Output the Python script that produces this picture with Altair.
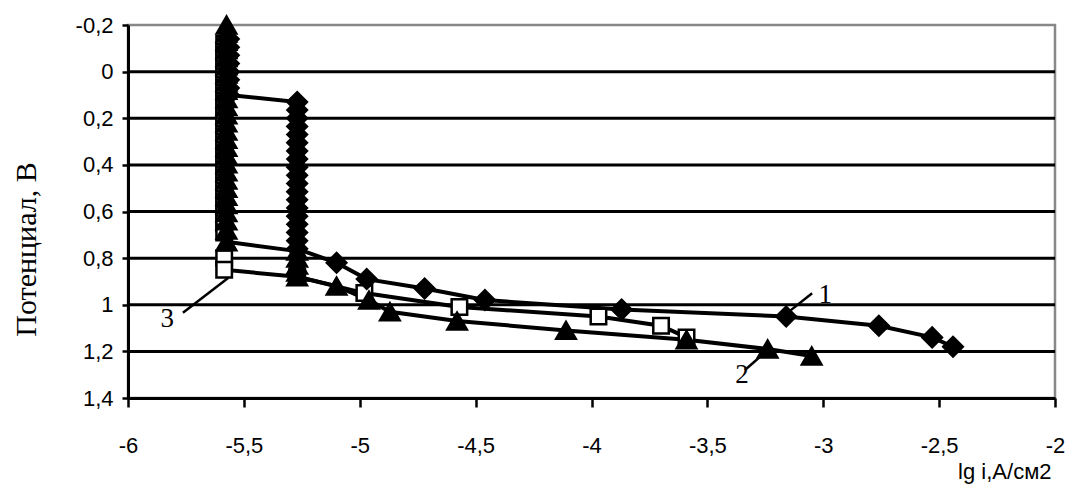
import altair as alt
import pandas as pd

# Series 1 (diamonds)
s1_x = [-5.565] * 8 + [-5.27] * 19 + [-5.10, -4.97, -4.72, -4.46, -3.87, -3.16, -2.76, -2.53, -2.44]
s1_y = [-0.14, -0.105, -0.07, -0.035, 0.0, 0.035, 0.07, 0.10,
        0.13, 0.165, 0.20, 0.235, 0.27, 0.305, 0.34, 0.375, 0.41, 0.445, 0.48, 0.515,
        0.55, 0.585, 0.62, 0.655, 0.69, 0.725, 0.76,
        0.82, 0.89, 0.93, 0.98, 1.02, 1.05, 1.09, 1.14, 1.18]

# Series 2 (triangles)
s2_x = [-5.575] * 27 + [-5.27] * 5 + [-5.10, -4.96, -4.87, -4.58, -4.11, -3.59, -3.24, -3.05]
s2_y = [-0.20, -0.165, -0.13, -0.095, -0.06, -0.025, 0.01, 0.045, 0.08, 0.115,
        0.15, 0.185, 0.22, 0.255, 0.29, 0.325, 0.36, 0.395, 0.43, 0.465,
        0.50, 0.535, 0.57, 0.605, 0.64, 0.68, 0.73,
        0.77, 0.80, 0.83, 0.86, 0.88,
        0.92, 0.98, 1.03, 1.07, 1.11, 1.15, 1.19, 1.22]

# Series 3 (squares)
s3_x = [-5.585] * 26 + [-5.27, -4.98, -4.57, -3.97, -3.70, -3.59]
s3_y = [-0.12, -0.085, -0.05, -0.015, 0.02, 0.055, 0.09, 0.125, 0.16, 0.195,
        0.23, 0.265, 0.30, 0.335, 0.37, 0.405, 0.44, 0.475, 0.51, 0.545,
        0.58, 0.615, 0.65, 0.69, 0.80, 0.85,
        0.88, 0.95, 1.01, 1.05, 1.09, 1.14]

series_names = ["1", "2", "3"]
x_ticks = [-6, -5.5, -5, -4.5, -4, -3.5, -3, -2.5, -2]
y_ticks = [-0.2, 0, 0.2, 0.4, 0.6, 0.8, 1, 1.2, 1.4]
grid_y = [0, 0.2, 0.4, 0.6, 0.8, 1, 1.2]

# curve labels and leader lines (data units)
lab_text = ["1", "2", "3"]
lab_x = [-3.02, -3.38, -5.86]
lab_y = [0.96, 1.30, 1.06]
lead_x = [-3.156, -3.338, -5.763]
lead_y = [1.036, 1.28, 1.034]
lead_x2 = [-3.048, -3.23, -5.568]
lead_y2 = [0.951, 1.186, 0.885]

def frame(name, xs_, ys_):
    return pd.DataFrame({"series": name, "x": xs_, "y": ys_, "i": list(range(len(xs_)))})

d1 = frame("1", s1_x, s1_y)
d2 = frame("2", s2_x, s2_y)
d3 = frame("3", s3_x, s3_y)
df = pd.concat([d1, d2, d3], ignore_index=True)

lab_df = pd.DataFrame({"t": lab_text, "x": lab_x, "y": lab_y})
lead_df = pd.DataFrame({"x": lead_x, "y": lead_y, "x2": lead_x2, "y2": lead_y2})
grid_df = pd.DataFrame({"y": grid_y})

xs = alt.Scale(domain=[-6, -2], nice=False, zero=False)
ys = alt.Scale(domain=[-0.2, 1.4], reverse=True, nice=False, zero=False)

label_expr = "replace(toString(datum.value), '.', ',')"

x_axis = alt.Axis(
    values=x_ticks, labelExpr=label_expr, grid=False,
    domainColor="black", domainWidth=3, tickColor="black", tickWidth=2.5, tickSize=9,
    labelFont="Liberation Sans", labelFontSize=22, labelColor="black", labelPadding=28,
    labelFlush=False, labelOverlap=False,
    title="lg i,A/см2", titleFont="Liberation Sans", titleFontSize=22, titleFontWeight="normal",
    titleColor="black", titleAlign="right", titleBaseline="middle", titleX=923, titleY=73,
)
y_axis = alt.Axis(
    values=y_ticks, labelExpr=label_expr, grid=False,
    domainColor="black", domainWidth=3, tickColor="black", tickWidth=2.5, tickSize=6,
    labelFont="Liberation Sans", labelFontSize=22, labelColor="black", labelPadding=9,
    labelFlush=False, labelOverlap=False,
    title="Потенциал, В", titleFont="Liberation Serif", titleFontSize=30, titleFontWeight="normal",
    titleColor="black", titleAngle=270, titleAlign="center", titleBaseline="middle",
    titleX=-102, titleY=224,
)

X = alt.X("x:Q", scale=xs, axis=x_axis)
Y = alt.Y("y:Q", scale=ys, axis=y_axis)

grid = alt.Chart(grid_df).mark_rule(color="black", strokeWidth=3).encode(
    x=alt.value(0), x2=alt.value(927), y=Y
)

lines = alt.Chart(df).mark_line(color="black", strokeWidth=4).encode(
    x=X, y=Y, detail="series:N", order="i:Q",
)

def pts(d, shape, fill, size):
    return alt.Chart(d).mark_point(shape=shape, filled=False, fill=fill, stroke="black",
                                   strokeWidth=2.5, size=size, opacity=1, fillOpacity=1).encode(x=X, y=Y)

p3 = pts(d3, "square", "white", 240)
p2 = pts(d2, "triangle-up", "black", 380)
p1 = pts(d1, "diamond", "black", 380)

leaders = alt.Chart(lead_df).mark_rule(color="black", strokeWidth=2.5).encode(
    x=X, y=Y, x2="x2:Q", y2="y2:Q",
)

labels = alt.Chart(lab_df).mark_text(font="Liberation Serif", fontSize=27, color="black", align="left", baseline="middle").encode(
    x=X, y=Y, text="t:N",
)

chart = alt.layer(grid, lines, p3, p2, p1, leaders, labels).properties(
    width=927, height=373,
    autosize=alt.AutoSizeParams(type="none"),
    padding={"left": 120, "top": 17, "right": 10, "bottom": 95},
    background="white",
).configure_view(stroke="#888888", strokeWidth=2.5)

chart.save("out.html", embed_options={"renderer": "svg", "actions": False})
